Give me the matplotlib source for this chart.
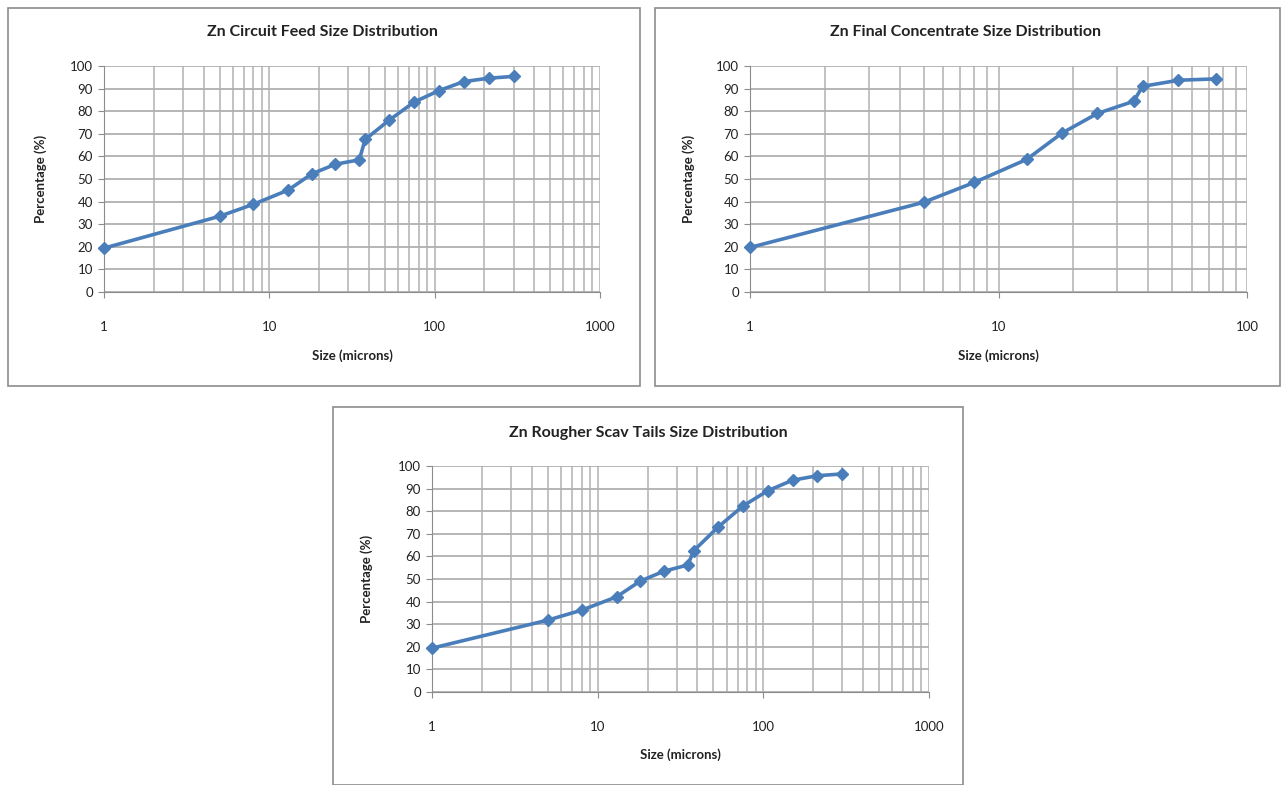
import numpy as np
import matplotlib
matplotlib.use("Agg")
import matplotlib.pyplot as plt
from matplotlib.patches import Rectangle
from matplotlib.ticker import LogLocator, NullFormatter, FuncFormatter

# Zn Circuit Feed
feed_size = [1, 5, 8, 13, 18, 25, 35, 38, 53, 75, 106, 150, 212, 300]
feed_pct = [19.4, 33.5, 38.8, 45.1, 52.2, 56.5, 58.5, 67.5, 76.0, 84.0, 89.1, 93.1, 94.6, 95.4]

# Zn Final Concentrate
conc_size = [1, 5, 8, 13, 18, 25, 35, 38, 53, 75]
conc_pct = [19.7, 39.7, 48.5, 58.7, 70.3, 79.0, 84.4, 91.0, 93.7, 94.3]

# Zn Rougher Scav Tails
tails_size = [1, 5, 8, 13, 18, 25, 35, 38, 53, 75, 106, 150, 212, 300]
tails_pct = [19.4, 31.8, 36.2, 42.1, 49.0, 53.4, 56.2, 62.5, 72.8, 82.2, 89.0, 93.7, 95.7, 96.5]

W, H = 1281, 785
fig = plt.figure(figsize=(W / 100, H / 100), dpi=100)
plt.rcParams['font.family'] = ['Lato', 'DejaVu Sans']

blue = '#4A7EBB'
grid_c = '#bdbdbd'


def box(x0, y0, x1, y1):
    fig.patches.append(Rectangle((x0 / W, 1 - y1 / H), (x1 - x0) / W, (y1 - y0) / H,
                                 transform=fig.transFigure, fill=False,
                                 edgecolor='#8c8c8c', linewidth=1.2))


def panel(px, x, y, xmax, title, title_xy, ylab_x, xlab_y):
    left, right, top, bottom = px
    ax = fig.add_axes([left / W, 1 - bottom / H, (right - left) / W, (bottom - top) / H])
    ax.plot(x, y, color=blue, linewidth=2.6, marker='D', markersize=6.5,
            markerfacecolor=blue, markeredgecolor=blue, zorder=3, clip_on=False)
    ax.set_xscale('log')
    ax.set_xlim(1, xmax)
    ax.set_ylim(0, 100)
    ax.set_yticks(np.arange(0, 101, 10))
    ax.xaxis.set_major_locator(LogLocator(base=10))
    ax.xaxis.set_minor_locator(LogLocator(base=10, subs=np.arange(2, 10)))
    ax.xaxis.set_minor_formatter(NullFormatter())
    ax.xaxis.set_major_formatter(FuncFormatter(lambda v, p: '%d' % round(v)))
    ax.grid(True, which='major', axis='y', color='#b0b0b0', linewidth=1.3)
    ax.grid(True, which='major', axis='x', color=grid_c, linewidth=1.3)
    ax.grid(True, which='minor', axis='x', color=grid_c, linewidth=1.3)
    for s in ['top', 'right']:
        ax.spines[s].set_visible(False)
    for s in ['left', 'bottom']:
        ax.spines[s].set_color('#8c8c8c')
    ax.tick_params(axis='both', which='major', length=4, color='#8c8c8c',
                   labelsize=9.5, labelcolor='#222222')
    ax.tick_params(axis='x', which='minor', length=0)
    ax.tick_params(axis='x', pad=17)
    ax.tick_params(axis='y', pad=4)
    fig.text(title_xy[0] / W, 1 - title_xy[1] / H, title, ha='center', va='center',
             fontsize=11.5, fontweight='bold', color='#222222')
    fig.text(ylab_x / W, 1 - (top + bottom) / 2 / H, 'Percentage (%)', rotation=90,
             ha='center', va='center', fontsize=9.5, fontweight='bold', color='#222222')
    fig.text((left + right) / 2 / W, 1 - xlab_y / H, 'Size (microns)', ha='center',
             va='center', fontsize=9.5, fontweight='bold', color='#222222')
    return ax


box(8, 8, 640, 386)
box(655, 8, 1280, 386)
box(333, 407, 963, 785)

panel((104, 600, 66, 292), feed_size, feed_pct, 1000,
      'Zn Circuit Feed Size Distribution', (322, 32), 41, 356)
panel((750, 1247, 66, 292), conc_size, conc_pct, 100,
      'Zn Final Concentrate Size Distribution', (966, 32), 689, 356)
panel((432, 929, 466, 692), tails_size, tails_pct, 1000,
      'Zn Rougher Scav Tails Size Distribution', (648, 433), 367, 755)

fig.savefig('out.png', dpi=100)
